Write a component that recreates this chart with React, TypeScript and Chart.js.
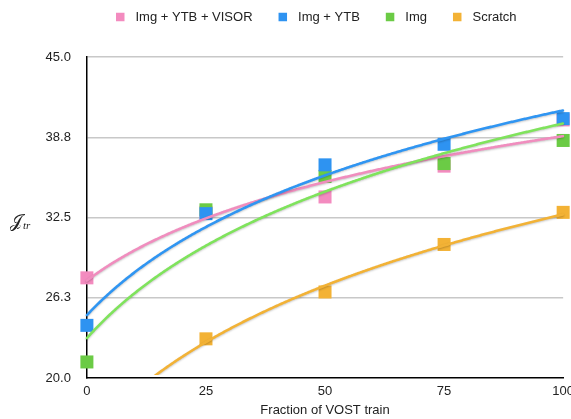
import React, { useEffect, useRef } from "react";
import { Chart, registerables } from "chart.js";

Chart.register(...registerables);

// ---- data ----
const xValues = [0, 25, 50, 75, 100];
const seriesNames = ["Img + YTB + VISOR", "Img + YTB", "Img", "Scratch"];
const visorValues: (number | null)[] = [27.8, 32.9, 34.1, 36.5, 40.1];
const ytbValues: (number | null)[] = [24.1, 32.8, 36.6, 38.2, 40.2];
const imgValues: (number | null)[] = [21.25, 33.1, 35.7, 36.7, 38.5];
const scratchValues: (number | null)[] = [null, 23.05, 26.7, 30.4, 32.9];
const yTicks = [20, 26.25, 32.5, 38.75, 45];
const yTickLabels = ["20.0", "26.3", "32.5", "38.8", "45.0"];
const xTicks = [0, 25, 50, 75, 100];
const xTickLabels = ["0", "25", "50", "75", "100"];
const xTitle = "Fraction of VOST train";

const markerColors = ["#F38BBF", "#2E93F1", "#6BCB45", "#F3B235"];
const lineColors = ["#F08DBE", "#2F95F2", "#7FE35C", "#F2B236"];
const drawOrder = [2, 0, 1, 3];

const FONT = '"Liberation Sans", Arial, Helvetica, sans-serif';

function logFit(values: (number | null)[]) {
  const pts: [number, number][] = [];
  values.forEach((v, i) => {
    if (v != null) pts.push([Math.log(i + 1), v]);
  });
  const n = pts.length;
  const mx = pts.reduce((s, p) => s + p[0], 0) / n;
  const my = pts.reduce((s, p) => s + p[1], 0) / n;
  let sxy = 0;
  let sxx = 0;
  pts.forEach(([x, y]) => {
    sxy += (x - mx) * (y - my);
    sxx += (x - mx) * (x - mx);
  });
  const b = sxy / sxx;
  const a = my - b * mx;
  return { a, b };
}

const allSeries = [visorValues, ytbValues, imgValues, scratchValues];

const trendPlugin = {
  id: "trendlines",
  afterDatasetsDraw(chart: any) {
    const { ctx, chartArea, scales } = chart;
    const xs = scales.x;
    const ys = scales.y;
    const step = xValues[1] - xValues[0];
    ctx.save();
    ctx.beginPath();
    ctx.rect(chartArea.left - 5, chartArea.top - 5, chartArea.right - chartArea.left + 10, chartArea.bottom - chartArea.top + 2);
    ctx.clip();
    [3, 0, 2, 1].forEach((si) => {
      const { a, b } = logFit(allSeries[si]);
      const x0 = xValues[0];
      const x1 = xValues[xValues.length - 1];
      const px0 = xs.getPixelForValue(x0);
      const px1 = xs.getPixelForValue(x1);
      ctx.beginPath();
      for (let px = px0; px <= px1 + 0.01; px += 1) {
        const xv = xs.getValueForPixel(Math.min(px, px1));
        const n = 1 + (xv - x0) / step;
        const yv = a + b * Math.log(n);
        const py = ys.getPixelForValue(yv);
        if (px === px0) ctx.moveTo(px, py);
        else ctx.lineTo(Math.min(px, px1), py);
      }
      ctx.strokeStyle = lineColors[si];
      ctx.lineWidth = 2.6;
      ctx.lineJoin = "round";
      ctx.lineCap = "round";
      ctx.shadowColor = "rgba(0,0,0,0.22)";
      ctx.shadowBlur = 2;
      ctx.shadowOffsetY = 1;
      ctx.stroke();
    });
    ctx.restore();
  },
};

const legendPlugin = {
  id: "customLegend",
  afterDraw(chart: any) {
    const { ctx } = chart;
    ctx.save();
    ctx.font = `13px ${FONT}`;
    ctx.textBaseline = "middle";
    ctx.textAlign = "left";
    let x = 116;
    const cy = 17;
    const box = 8.5;
    seriesNames.forEach((name, i) => {
      ctx.fillStyle = markerColors[i];
      ctx.fillRect(x, cy - box / 2, box, box);
      ctx.fillStyle = "#222";
      const tx = x + box + 11;
      ctx.fillText(name, tx, cy);
      x = tx + ctx.measureText(name).width + 26;
    });
    ctx.restore();
  },
};

const yTitlePlugin = {
  id: "yTitle",
  afterDraw(chart: any) {
    const { ctx } = chart;
    ctx.save();
    ctx.fillStyle = "#222";
    ctx.textBaseline = "alphabetic";
    ctx.textAlign = "left";
    ctx.font = `18px "DejaVu Serif", "Liberation Serif", serif`;
    const J = "\u{1D4A5}";
    ctx.fillText(J, 10, 227);
    const w = ctx.measureText(J).width;
    ctx.font = `italic 11px "Liberation Serif", "DejaVu Serif", serif`;
    ctx.fillText("tr", 10 + w + 1, 229);
    ctx.restore();
  },
};

export default function App() {
  const ref = useRef<HTMLCanvasElement | null>(null);
  useEffect(() => {
    if (!ref.current) return;
    const datasets = allSeries.map((vals, i) => ({
      label: seriesNames[i],
      data: vals.map((v, j) => (v == null ? null : { x: xValues[j], y: v })).filter((p) => p != null),
      backgroundColor: markerColors[i],
      borderColor: markerColors[i],
      borderWidth: 0,
      pointStyle: "rect",
      pointRadius: 9.2,
      pointHoverRadius: 9.2,
      showLine: false,
      clip: false,
      order: drawOrder[i],
    }));
    const chart = new Chart(ref.current, {
      type: "scatter",
      data: { datasets } as any,
      plugins: [trendPlugin, legendPlugin, yTitlePlugin],
      options: {
        animation: false,
        responsive: false,
        maintainAspectRatio: false,
        layout: { padding: { top: 57, left: 29.6, right: 15.5, bottom: 0 } },
        plugins: { legend: { display: false }, tooltip: { enabled: false } },
        scales: {
          x: {
            type: "linear",
            min: xTicks[0],
            max: xTicks[xTicks.length - 1],
            afterBuildTicks: (s: any) => {
              s.ticks = xTicks.map((v) => ({ value: v }));
            },
            ticks: {
              padding: 6,
              color: "#222",
              font: { family: FONT, size: 13 },
              callback: (_v: any, i: number) => xTickLabels[i],
            },
            grid: { display: false, drawTicks: false },
            border: { display: true, color: "#000", width: 1.5 },
            title: {
              display: true,
              text: xTitle,
              color: "#222",
              font: { family: FONT, size: 13 },
              padding: { top: -3.4, bottom: 1.2 },
            },
          },
          y: {
            type: "linear",
            min: yTicks[0],
            max: yTicks[yTicks.length - 1],
            afterBuildTicks: (s: any) => {
              s.ticks = yTicks.map((v) => ({ value: v }));
            },
            ticks: {
              padding: 16,
              color: "#222",
              font: { family: FONT, size: 13 },
              callback: (_v: any, i: number) => yTickLabels[i],
            },
            grid: {
              drawTicks: false,
              lineWidth: 1.5,
              color: (c: any) => (c.tick && c.tick.value === yTicks[0] ? "rgba(0,0,0,0)" : "#C8C8C8"),
            },
            border: { display: true, color: "#000", width: 1.5 },
          },
        },
      } as any,
    });
    return () => chart.destroy();
  }, []);
  return (
    <div style={{ position: "fixed", left: 0, top: 0, width: 580, height: 419, background: "#fff" }}>
      <canvas ref={ref} width={580} height={419} style={{ display: "block" }} />
    </div>
  );
}
